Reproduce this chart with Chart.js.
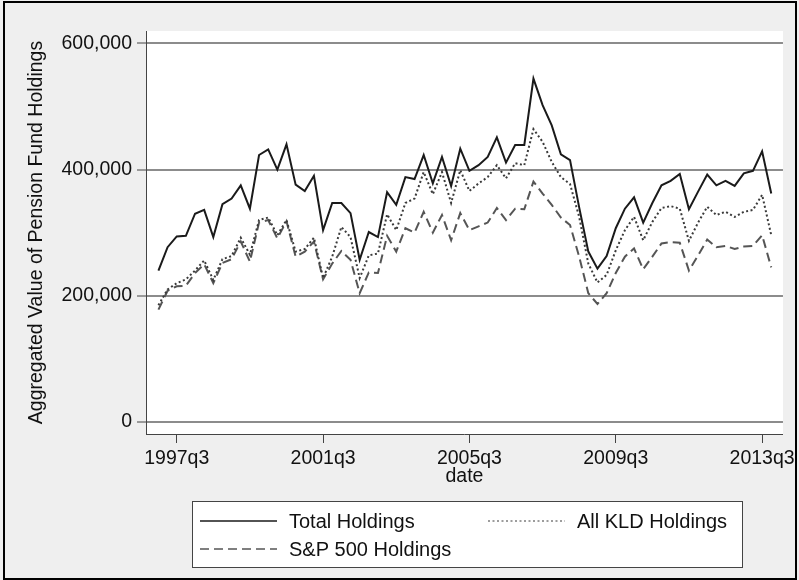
<!DOCTYPE html>
<html>
<head>
<meta charset="utf-8">
<script src="https://cdn.jsdelivr.net/npm/chart.js@4.4.1/dist/chart.umd.min.js"></script>
<style>
  html, body { margin: 0; padding: 0; background: #efefef; }
  #wrap { width: 799px; height: 580px; position: relative; }
</style>
</head>
<body>
<div id="wrap"><canvas id="pensionChart" width="799" height="580"></canvas></div>
<script>
// quarterly data, 1997q1 .. 2013q4
var firstYear = 1997;
var quarters = [];
for (var i = 0; i < 68; i++) {
    quarters.push((firstYear + Math.floor(i / 4)) + 'q' + (i % 4 + 1));
}

var totalHoldings = [
    240000, 277000, 294000, 295000, 330000, 336000, 293000, 345000, 354000, 375000,
    338000, 423000, 432000, 400000, 440000, 376000, 366000, 390000, 304000, 347000,
    347000, 331000, 257000, 301000, 293000, 364000, 344000, 388000, 385000, 423000,
    378000, 420000, 374000, 433000, 398000, 407000, 420000, 451000, 411000, 439000,
    439000, 544000, 502000, 470000, 424000, 415000, 340000, 270000, 243000, 263000,
    307000, 338000, 356000, 316000, 347000, 375000, 382000, 393000, 337000, 365000,
    392000, 375000, 382000, 374000, 394000, 398000, 429000, 362000
];
var kldHoldings = [
    185000, 210000, 220000, 226000, 240000, 256000, 225000, 258000, 263000, 292000,
    265000, 320000, 324000, 296000, 320000, 270000, 274000, 292000, 228000, 262000,
    309000, 293000, 228000, 264000, 267000, 329000, 304000, 347000, 354000, 396000,
    361000, 396000, 347000, 399000, 366000, 378000, 388000, 407000, 386000, 410000,
    407000, 464000, 444000, 412000, 388000, 377000, 325000, 251000, 221000, 233000,
    272000, 304000, 325000, 288000, 317000, 339000, 342000, 338000, 287000, 316000,
    341000, 328000, 333000, 325000, 333000, 336000, 360000, 296000
];
var sp500Holdings = [
    178000, 208000, 215000, 216000, 236000, 250000, 220000, 252000, 258000, 286000,
    254000, 316000, 320000, 291000, 318000, 262000, 270000, 286000, 226000, 251000,
    271000, 257000, 204000, 237000, 236000, 295000, 270000, 307000, 300000, 333000,
    300000, 328000, 288000, 331000, 304000, 310000, 316000, 339000, 320000, 338000,
    337000, 381000, 362000, 344000, 324000, 312000, 262000, 204000, 187000, 204000,
    236000, 262000, 275000, 242000, 262000, 283000, 285000, 284000, 240000, 264000,
    289000, 277000, 279000, 274000, 278000, 279000, 296000, 245000
];

var xTickLabels = ['1997q3', '2001q3', '2005q3', '2009q3', '2013q3'];
var yTickValues = [0, 200000, 400000, 600000];

var FONT = '"Liberation Sans", Arial, sans-serif';

function points(values) {
    return values.map(function(v, i) { return {x: i, y: v}; });
}

var framePlugin = {
    id: 'frame',
    beforeDraw: function(chart) {
        var ctx = chart.ctx, a = chart.chartArea;
        ctx.save();
        ctx.fillStyle = '#efefef';
        ctx.fillRect(0, 0, chart.width, chart.height);
        ctx.fillStyle = '#ffffff';
        ctx.fillRect(a.left, a.top, a.right - a.left, a.bottom - a.top);
        ctx.restore();
    },
    afterDraw: function(chart) {
        var ctx = chart.ctx, a = chart.chartArea;
        ctx.save();
        // outer border
        ctx.strokeStyle = '#000';
        ctx.lineWidth = 2;
        ctx.strokeRect(4, 2, 792, 577);

        ctx.fillStyle = '#111';
        ctx.font = '19.5px ' + FONT;
        ctx.textAlign = 'center';
        ctx.textBaseline = 'middle';
        // x title
        ctx.fillText('date', (a.left + a.right) / 2, 477);
        // y title
        ctx.save();
        ctx.translate(37, (a.top + a.bottom) / 2);
        ctx.rotate(-Math.PI / 2);
        ctx.fillText('Aggregated Value of Pension Fund Holdings', 0, 0);
        ctx.restore();

        // legend
        ctx.fillStyle = '#fff';
        ctx.fillRect(192, 501, 550, 66);
        ctx.strokeStyle = '#444';
        ctx.lineWidth = 1;
        ctx.strokeRect(192.5, 501.5, 550, 66);
        var ds = chart.data.datasets;
        var slots = [
            {d: ds[0], x: 200, y: 521},
            {d: ds[1], x: 488, y: 521},
            {d: ds[2], x: 200, y: 549}
        ];
        slots.forEach(function(s) {
            ctx.save();
            ctx.strokeStyle = s.d.borderColor;
            ctx.lineWidth = s.d.legendWidth;
            ctx.setLineDash(s.d.borderDash || []);
            ctx.beginPath();
            ctx.moveTo(s.x, s.y);
            ctx.lineTo(s.x + 77, s.y);
            ctx.stroke();
            ctx.restore();
            ctx.fillStyle = '#111';
            ctx.font = '20px ' + FONT;
            ctx.textAlign = 'left';
            ctx.fillText(s.d.label, s.x + 89, s.y + 1);
        });
        ctx.restore();
    }
};

var chart = new Chart(document.getElementById('pensionChart'), {
    type: 'line',
    data: {
        datasets: [
            {
                label: 'Total Holdings',
                data: points(totalHoldings),
                borderColor: '#1a1a1a',
                borderWidth: 2,
                legendWidth: 1.5
            },
            {
                label: 'All KLD Holdings',
                data: points(kldHoldings),
                borderColor: '#3a3a3a',
                borderWidth: 2,
                borderDash: [2, 2.5],
                legendWidth: 1
            },
            {
                label: 'S&P 500 Holdings',
                data: points(sp500Holdings),
                borderColor: '#555555',
                borderWidth: 2,
                borderDash: [9, 5],
                legendWidth: 1.5
            }
        ]
    },
    options: {
        responsive: false,
        animation: false,
        layout: {padding: {top: 31, right: 11, left: 0, bottom: 0}},
        elements: {
            point: {radius: 0},
            line: {tension: 0, fill: false}
        },
        plugins: {
            legend: {display: false},
            tooltip: {enabled: false}
        },
        scales: {
            x: {
                type: 'linear',
                min: -1.36,
                max: 68.28,
                afterBuildTicks: function(axis) {
                    axis.ticks = xTickLabels.map(function(q) {
                        return {value: quarters.indexOf(q)};
                    });
                },
                afterFit: function(axis) { axis.height = 146; },
                ticks: {
                    autoSkip: false,
                    maxRotation: 0,
                    padding: 4,
                    color: '#111',
                    font: {family: FONT, size: 19.5},
                    callback: function(value) { return quarters[value]; }
                },
                grid: {
                    drawOnChartArea: false,
                    drawTicks: true,
                    tickLength: 9,
                    tickColor: '#444',
                    tickWidth: 1
                },
                border: {display: true, color: '#444', width: 1}
            },
            y: {
                min: -19000,
                max: 619500,
                afterBuildTicks: function(axis) {
                    axis.ticks = yTickValues.map(function(v) { return {value: v}; });
                },
                afterFit: function(axis) { axis.width = 146; },
                ticks: {
                    padding: 5,
                    color: '#111',
                    font: {family: FONT, size: 19.5},
                    callback: function(value) { return value.toLocaleString('en-US'); }
                },
                grid: {
                    color: '#8c8c8c',
                    lineWidth: 2,
                    drawTicks: true,
                    tickLength: 9,
                    tickColor: '#444',
                    tickWidth: 1
                },
                border: {display: true, color: '#444', width: 1}
            }
        }
    },
    plugins: [framePlugin]
});
</script>
</body>
</html>
